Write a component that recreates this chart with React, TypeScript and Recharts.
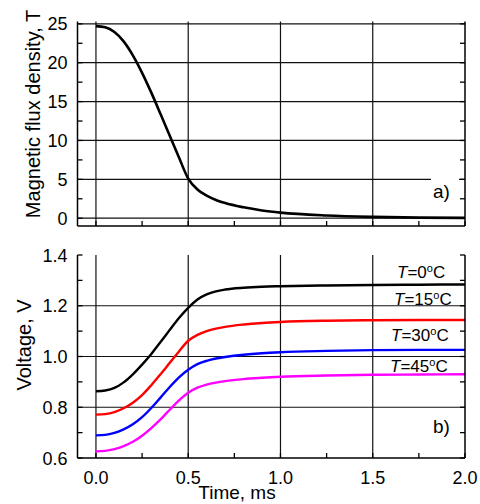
import React from 'react'
import { CartesianGrid, Line, LineChart, XAxis, YAxis } from 'recharts'

// time axis (ms)
const timeB = [0, 0.05, 0.1, 0.15, 0.2, 0.25, 0.3, 0.35, 0.4, 0.45, 0.5, 0.55, 0.6, 0.65, 0.7, 0.8, 0.9, 1.0, 1.25, 1.5, 1.75, 2.0]
const fluxB = [24.7, 24.55, 23.95, 22.75, 20.95, 18.7, 16.15, 13.4, 10.6, 7.8, 5.1, 3.7, 2.9, 2.35, 1.95, 1.4, 1.0, 0.72, 0.35, 0.17, 0.08, 0.04]

const timeV = [0, 0.05, 0.1, 0.15, 0.2, 0.25, 0.3, 0.35, 0.4, 0.45, 0.5, 0.55, 0.6, 0.65, 0.7, 0.8, 0.9, 1.0, 1.25, 1.5, 1.75, 2.0]
const v0 = [0.863, 0.866, 0.876, 0.898, 0.93, 0.968, 1.01, 1.057, 1.105, 1.152, 1.192, 1.225, 1.245, 1.257, 1.264, 1.271, 1.275, 1.277, 1.28, 1.282, 1.283, 1.284]
const v15 = [0.771, 0.773, 0.781, 0.796, 0.818, 0.848, 0.887, 0.93, 0.975, 1.02, 1.062, 1.085, 1.1, 1.11, 1.117, 1.126, 1.132, 1.136, 1.141, 1.143, 1.144, 1.144]
const v30 = [0.689, 0.691, 0.699, 0.713, 0.733, 0.761, 0.797, 0.838, 0.88, 0.918, 0.948, 0.97, 0.983, 0.992, 0.998, 1.007, 1.013, 1.017, 1.022, 1.025, 1.026, 1.026]
const v45 = [0.626, 0.628, 0.635, 0.647, 0.664, 0.688, 0.718, 0.752, 0.79, 0.827, 0.857, 0.877, 0.889, 0.897, 0.903, 0.911, 0.916, 0.92, 0.925, 0.928, 0.929, 0.93]

const xTicks = [0, 0.25, 0.5, 0.75, 1.0, 1.25, 1.5, 1.75, 2.0]
const xGrid = [0, 0.5, 1.0, 1.5]
const bTicks = [0, 2.5, 5, 7.5, 10, 12.5, 15, 17.5, 20, 22.5, 25]
const bGrid = [0, 5, 10, 15, 20, 25]
const vTicks = [0.6, 0.7, 0.8, 0.9, 1.0, 1.1, 1.2, 1.3, 1.4]
const vGrid = [0.8, 1.0, 1.2]

const tempLabels = ['0', '15', '30', '45']

const fluxData = timeB.map((t, i) => ({ t, b: fluxB[i] }))
const voltData = timeV.map((t, i) => ({ t, v0: v0[i], v15: v15[i], v30: v30[i], v45: v45[i] }))

const FONT = '"Liberation Sans", Arial, sans-serif'
const TICK = 5

const XTick = (props: any) => {
  const { x, y, payload, side, showLabel } = props
  const v = payload.value
  const major = Math.abs(v * 2 - Math.round(v * 2)) < 1e-6
  const d = side === 'top' ? 1 : -1
  return (
    <g>
      <line x1={x} x2={x} y1={y} y2={y + d * TICK} stroke="#000" strokeWidth={1.3} />
      {showLabel && major && (
        <text x={x} y={y + 26} textAnchor="middle" fontSize={18} fontFamily={FONT} fill="#000">
          {v.toFixed(1)}
        </text>
      )}
    </g>
  )
}

const YTick = (props: any) => {
  const { x, y, payload, side, showLabel, isMajor, fmt } = props
  const v = payload.value
  const d = side === 'left' ? 1 : -1
  return (
    <g>
      <line x1={x} x2={x + d * TICK} y1={y} y2={y} stroke="#000" strokeWidth={1.3} />
      {showLabel && isMajor(v) && (
        <text x={x - 10} y={y + 6.5} textAnchor="end" fontSize={18} fontFamily={FONT} fill="#000">
          {fmt(v)}
        </text>
      )}
    </g>
  )
}

const isMajorB = (v: number) => v % 5 === 0
const isMajorV = (v: number) => Math.round(v * 10) % 2 === 0
const fmtB = (v: number) => String(v)
const fmtV = (v: number) => v.toFixed(1)

const axisLine = { stroke: '#000', strokeWidth: 1.5 }

const FluxChart = () => (
  <LineChart width={480} height={240} data={fluxData} margin={{ top: 21.5, right: 0, bottom: 0, left: 0 }}>
    <CartesianGrid stroke="#111" strokeWidth={1.2} horizontalValues={bGrid} verticalValues={xGrid} />
    <XAxis dataKey="t" type="number" domain={[-0.1, 2]} ticks={xTicks} interval={0} height={14}
      tickSize={0} tickMargin={0} axisLine={axisLine} allowDataOverflow
      tick={(p: any) => <XTick {...p} side="bottom" showLabel={false} />} />
    <XAxis xAxisId="top" orientation="top" dataKey="t" type="number" domain={[-0.1, 2]} ticks={xTicks} interval={0} height={0}
      tickSize={0} tickMargin={0} axisLine={axisLine} allowDataOverflow
      tick={(p: any) => <XTick {...p} side="top" showLabel={false} />} />
    <YAxis type="number" domain={[-1, 25.3]} ticks={bTicks} interval={0} width={77.5}
      tickSize={0} tickMargin={0} axisLine={axisLine} allowDataOverflow
      tick={(p: any) => <YTick {...p} side="left" showLabel isMajor={isMajorB} fmt={fmtB} />} />
    <YAxis yAxisId="right" orientation="right" type="number" domain={[-1, 25.3]} ticks={bTicks} interval={0} width={15}
      tickSize={0} tickMargin={0} axisLine={axisLine} allowDataOverflow
      tick={(p: any) => <YTick {...p} side="right" showLabel={false} isMajor={isMajorB} fmt={fmtB} />} />
    <Line type="monotone" dataKey="b" stroke="#000" strokeWidth={2.6} dot={false} isAnimationActive={false} />
  </LineChart>
)

const VoltChart = () => (
  <LineChart width={480} height={264} data={voltData} margin={{ top: 15, right: 0, bottom: 0, left: 0 }}>
    <CartesianGrid stroke="#111" strokeWidth={1.2} horizontalValues={vGrid} verticalValues={xGrid} />
    <XAxis dataKey="t" type="number" domain={[-0.1, 2]} ticks={xTicks} interval={0} height={46}
      tickSize={0} tickMargin={0} axisLine={axisLine} allowDataOverflow
      tick={(p: any) => <XTick {...p} side="bottom" showLabel />} />
    <XAxis xAxisId="top" orientation="top" dataKey="t" type="number" domain={[-0.1, 2]} ticks={xTicks} interval={0} height={0}
      tickSize={0} tickMargin={0} axisLine={axisLine} allowDataOverflow
      tick={(p: any) => <XTick {...p} side="top" showLabel={false} />} />
    <YAxis type="number" domain={[0.6, 1.4]} ticks={vTicks} interval={0} width={77.5}
      tickSize={0} tickMargin={0} axisLine={axisLine} allowDataOverflow
      tick={(p: any) => <YTick {...p} side="left" showLabel isMajor={isMajorV} fmt={fmtV} />} />
    <YAxis yAxisId="right" orientation="right" type="number" domain={[0.6, 1.4]} ticks={vTicks} interval={0} width={15}
      tickSize={0} tickMargin={0} axisLine={axisLine} allowDataOverflow
      tick={(p: any) => <YTick {...p} side="right" showLabel={false} isMajor={isMajorV} fmt={fmtV} />} />
    <Line type="monotone" dataKey="v0" stroke="#000" strokeWidth={2.4} dot={false} isAnimationActive={false} />
    <Line type="monotone" dataKey="v15" stroke="#ff0000" strokeWidth={2.4} dot={false} isAnimationActive={false} />
    <Line type="monotone" dataKey="v30" stroke="#0000ff" strokeWidth={2.4} dot={false} isAnimationActive={false} />
    <Line type="monotone" dataKey="v45" stroke="#ff00ff" strokeWidth={2.4} dot={false} isAnimationActive={false} />
  </LineChart>
)

const tempPos = [
  { x: 397, y: 278 },
  { x: 394, y: 305 },
  { x: 391, y: 341 },
  { x: 390, y: 371.5 },
]

export default function App() {
  return (
    <div style={{ position: 'absolute', left: 0, top: 0, width: 480, height: 504, background: '#fff', fontFamily: FONT }}>
      <div style={{ position: 'absolute', left: 0, top: 0 }}>
        <FluxChart />
      </div>
      <div style={{ position: 'absolute', left: 0, top: 240 }}>
        <VoltChart />
      </div>
      <svg width={480} height={504} style={{ position: 'absolute', left: 0, top: 0, pointerEvents: 'none' }}>
        <g fontFamily={FONT} fill="#000">
          <text transform="translate(40,114) rotate(-90)" textAnchor="middle" fontSize={20}>Magnetic flux density, T</text>
          <text transform="translate(31,345) rotate(-90)" textAnchor="middle" fontSize={20}>Voltage, V</text>
          <text x={237} y={499} textAnchor="middle" fontSize={19}>Time, ms</text>
          <rect x={431} y={178} width={28} height={25} fill="#fff" />
          <text x={433} y={198} fontSize={19}>a)</text>
          <text x={433} y={433} fontSize={19}>b)</text>
          {tempLabels.map((t, i) => (
            <text key={t} x={tempPos[i].x} y={tempPos[i].y} fontSize={17}>
              <tspan fontStyle="italic">T</tspan>={t}
              <tspan dy={-6} fontSize={11}>o</tspan>
              <tspan dy={6}>C</tspan>
            </text>
          ))}
        </g>
      </svg>
    </div>
  )
}
